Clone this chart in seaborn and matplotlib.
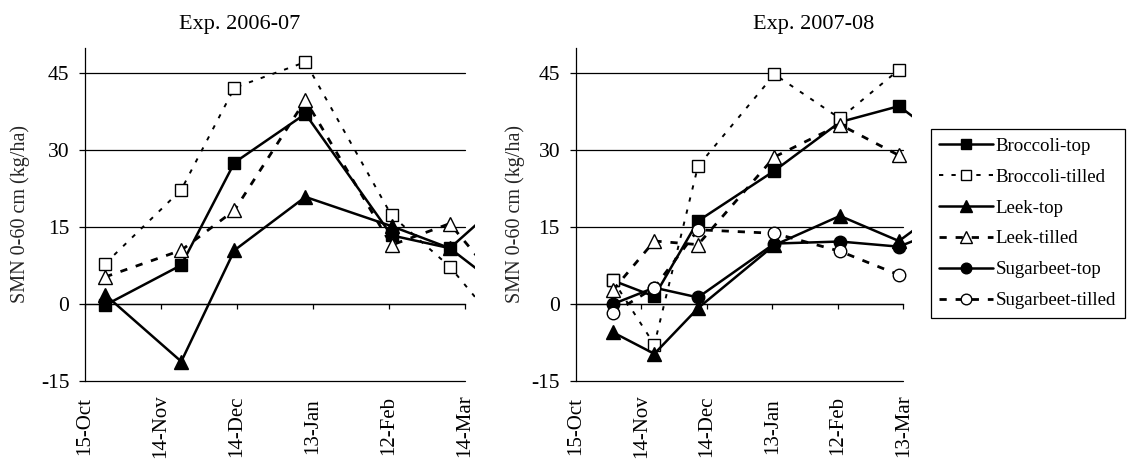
import numpy as np
import pandas as pd
import matplotlib
matplotlib.use('Agg')
import matplotlib.pyplot as plt
import seaborn as sns
from matplotlib.transforms import Bbox, TransformedBbox

# x values are days after 15 October
tick_days = [0, 30, 60, 90, 120, 150]
ticks_0607 = ['15-Oct', '14-Nov', '14-Dec', '13-Jan', '12-Feb', '14-Mar']
ticks_0708 = ['15-Oct', '14-Nov', '14-Dec', '13-Jan', '12-Feb', '13-Mar']
y_ticks = [-15, 0, 15, 30, 45]

days_0607 = [8, 38, 59, 87, 121, 144, 174]
broccoli_top_0607 = [-0.2, 7.6, 27.6, 37.1, 13.4, 10.9, -0.5]
broccoli_tilled_0607 = [7.9, 22.3, 42.2, 47.2, 17.3, 7.3, -10.5]
leek_top_0607 = [1.8, -11.2, 10.5, 20.9, 15.2, 10.9, 24.1]
leek_tilled_0607 = [5.3, 10.5, 18.3, 39.8, 11.5, 15.7, -2.1]

days_0708 = [17, 36, 56, 91, 121, 148, 178]
broccoli_top_0708 = [4.6, 1.5, 16.2, 26.0, 35.5, 38.6, 29.0]
broccoli_tilled_0708 = [4.7, -7.9, 26.9, 44.8, 36.2, 45.7]
leek_top_0708 = [-5.5, -9.7, -0.8, 11.5, 17.2, 12.3, 21.7]
leek_tilled_0708 = [2.7, 12.3, 11.6, 28.7, 35.0, 29.0]
sugarbeet_top_0708 = [0.0, 3.2, 1.3, 11.8, 12.2, 11.2, 16.3]
sugarbeet_tilled_0708 = [-1.8, 3.2, 14.5, 13.8, 10.3, 5.7]

sns.set_style('white')
plt.rcParams['font.family'] = ['Liberation Serif', 'DejaVu Serif']
plt.rcParams['text.color'] = 'black'
plt.rcParams['axes.unicode_minus'] = False

W, H = 1127, 462
fig = plt.figure(figsize=(W / 100, H / 100), dpi=100)
fig.patch.set_facecolor('white')

ax1 = fig.add_axes([85 / W, 1 - 381 / H, 380 / W, 333.3 / H])
ax2 = fig.add_axes([575.7 / W, 1 - 381 / H, 327.6 / W, 333.3 / H])

styles = {
    'Broccoli-top': dict(marker='s', mfc='black', ls='-', lw=1.8, ms=9),
    'Broccoli-tilled': dict(marker='s', mfc='white', ls=(0, (2.2, 4.2)), lw=1.4, ms=9),
    'Leek-top': dict(marker='^', mfc='black', ls='-', lw=1.8, ms=9.5),
    'Leek-tilled': dict(marker='^', mfc='white', ls=(0, (2.6, 3.2)), lw=2.0, ms=9.5),
    'Sugarbeet-top': dict(marker='o', mfc='black', ls='-', lw=1.8, ms=9),
    'Sugarbeet-tilled': dict(marker='o', mfc='white', ls=(0, (2.6, 3.2)), lw=2.0, ms=9),
}

panel_0607 = [
    ('Broccoli-top', broccoli_top_0607),
    ('Broccoli-tilled', broccoli_tilled_0607),
    ('Leek-top', leek_top_0607),
    ('Leek-tilled', leek_tilled_0607),
]
panel_0708 = [
    ('Broccoli-top', broccoli_top_0708),
    ('Broccoli-tilled', broccoli_tilled_0708),
    ('Leek-top', leek_top_0708),
    ('Leek-tilled', leek_tilled_0708),
    ('Sugarbeet-top', sugarbeet_top_0708),
    ('Sugarbeet-tilled', sugarbeet_tilled_0708),
]


def draw(ax, days, series, ticklabels, title, title_x, ylabel_x, clip_px):
    for name, vals in series:
        st = styles[name]
        sns.lineplot(x=days[:len(vals)], y=vals, ax=ax, color='black',
                     marker=st['marker'], markerfacecolor=st['mfc'],
                     markeredgecolor='black', markeredgewidth=1.0,
                     markersize=st['ms'], linestyle=st['ls'], linewidth=st['lw'],
                     label=name, sort=False, errorbar=None)
    if ax.get_legend() is not None:
        ax.get_legend().remove()
    for s in ['top', 'right']:
        ax.spines[s].set_visible(False)
    ax.spines['bottom'].set_position(('data', 0))
    ax.spines['left'].set_color('black')
    ax.spines['left'].set_linewidth(0.9)
    ax.spines['bottom'].set_color('black')
    ax.spines['bottom'].set_linewidth(0.9)
    ax.set_xlim(0, 150)
    ax.set_ylim(-15, 50)
    ax.set_yticks(y_ticks)
    ax.set_xticks(tick_days)
    ax.set_xticklabels(ticklabels, rotation=90, fontsize=15, va='center')
    ax.tick_params(axis='y', labelsize=15.5, length=4.3, width=0.9, color='black',
                   pad=7, left=True, labelcolor='black')
    ax.tick_params(axis='x', length=3.6, width=0.9, color='black', pad=84,
                   bottom=True, direction='out', labelcolor='black')
    ax.grid(axis='y', color='black', linewidth=0.9)
    ax.grid(axis='x', visible=False)
    ax.set_axisbelow(True)
    for gl in ax.yaxis.get_gridlines():
        gl.set_clip_on(False)
    ax.set_xlabel('')
    ax.set_ylabel('SMN 0-60 cm (kg/ha)', fontsize=14.5)
    ax.yaxis.set_label_coords(ylabel_x, 0.5)
    ax.set_title(title, x=title_x, y=1.055, pad=0, fontsize=16)
    clip = TransformedBbox(Bbox.from_extents(0, 0, clip_px / W, 1), fig.transFigure)
    for ln in ax.lines:
        ln.set_clip_path(None)
        ln.set_clip_box(clip)
        ln.set_clip_on(True)


draw(ax1, days_0607, panel_0607, ticks_0607, 'Exp. 2006-07', 0.408, -0.145, 475)
draw(ax2, days_0708, panel_0708, ticks_0708, 'Exp. 2007-08', 0.727, -0.155, 911.7)

handles, labels = ax2.get_legend_handles_labels()
leg = fig.legend(handles, labels, loc='upper left',
                 bbox_to_anchor=(930.7 / W, 1 - 129.3 / H),
                 frameon=True, fancybox=False, shadow=False, framealpha=1,
                 edgecolor='black', fontsize=13.6, handlelength=2.85,
                 handletextpad=0.15, labelspacing=0.72, borderpad=0.45,
                 borderaxespad=0, markerscale=0.85)
leg.get_frame().set_linewidth(0.9)

fig.savefig('out.png', dpi=100, facecolor='white')
